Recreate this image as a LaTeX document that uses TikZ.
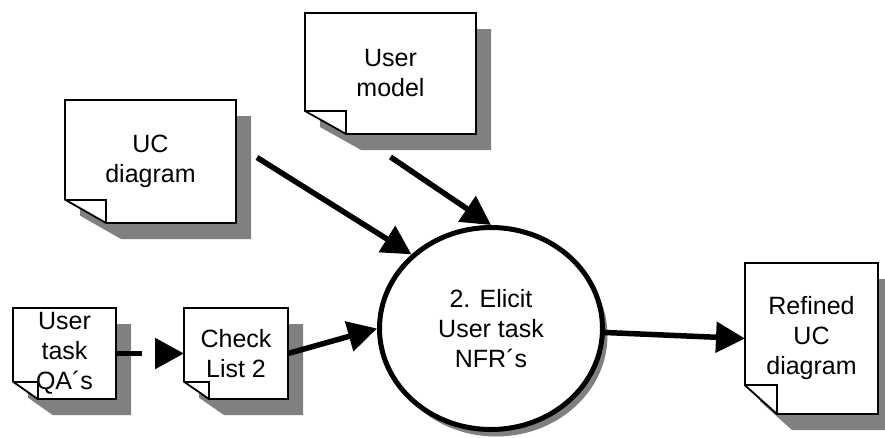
\documentclass[tikz,border=0pt]{standalone}
\usepackage{fontspec}
\setmainfont{Liberation Sans}
\usepackage{xcolor}
\usepackage{tikz}
\usetikzlibrary{shapes.geometric, arrows.meta, positioning, shadows, calc, backgrounds}
\newcommand{\labelfont}{\fontsize{25}{30}\selectfont}
\definecolor{shadegray}{RGB}{128,128,128}

\begin{document}
\begin{tikzpicture}[x=1pt, y=-1pt]
		\tikzset{
			doc/.style={rectangle, inner sep=0pt, outer sep=0pt, align=center, font=\labelfont},
			process/.style={ellipse, draw, line width=5pt, fill=white, inner sep=0pt, align=center, font=\labelfont,
			drop shadow={shadow xshift=5pt, shadow yshift=-7pt, fill=shadegray, opacity=1}},
			flow/.style={line width=5.5pt, -{Triangle[length=29pt, width=30pt]}},
			sheet/.style={draw, black, line width=1.8pt, line join=miter},
			sheetshade/.style={fill=shadegray}
		}
		\useasboundingbox (0,0) rectangle (885,437);

		\node[process, minimum width=223pt, minimum height=202pt](task) at (491,328.5){2. Elicit\\User task\\NFR´s};
		\node[doc, minimum width=103pt, minimum height=91pt](qa) at (64.5,353.5){User\\task\\QA´s};
		\node[doc, minimum width=104pt, minimum height=91pt, right=68pt of qa](check){Check\\List 2};
		\node[doc, minimum width=171pt, minimum height=123pt](uc) at (150.5,161.5){UC\\diagram};
		\node[doc, minimum width=171pt, minimum height=121pt](umodel) at (390.5,73.5){User\\model};
		\node[doc, minimum width=133pt, minimum height=151pt, right=140pt of task, yshift=-10pt](refined){Refined\\UC\\diagram};

		% sheets with folded corner
		\begin{scope}[on background layer]
			\foreach \d in {umodel, uc, qa, check, refined} {
				\coordinate (fx) at ($(\d.south west)!0.24!(\d.south east)$);
				\coordinate (fy) at ($(\d.south west)!0.19!(\d.north west)$);
				\fill[sheetshade, transform canvas={shift={(15pt,-16pt)}}] (\d.north west) -- (\d.north east) -- (\d.south east) -- (fx) -- (fy) -- cycle;
				\draw[sheet, fill=white] (\d.north west) -- (\d.north east) -- (\d.south east) -- (fx) -- (fy) -- cycle;
				\draw[sheet] (fy) -- (fy -| fx) -- (fx);
			}
		\end{scope}

		\draw[flow, dash pattern=on 26pt off 40pt](qa) -- (check);
		\draw[flow](check.east) -- (task.west);
		\draw[flow]([xshift=21pt, yshift=4pt]uc.east) -- (task.137);
		\draw[flow]([yshift=-23pt]umodel.south) -- (task.north);
		\draw[flow](task.-2) -- (refined.west);

	\end{tikzpicture}
\end{document}
